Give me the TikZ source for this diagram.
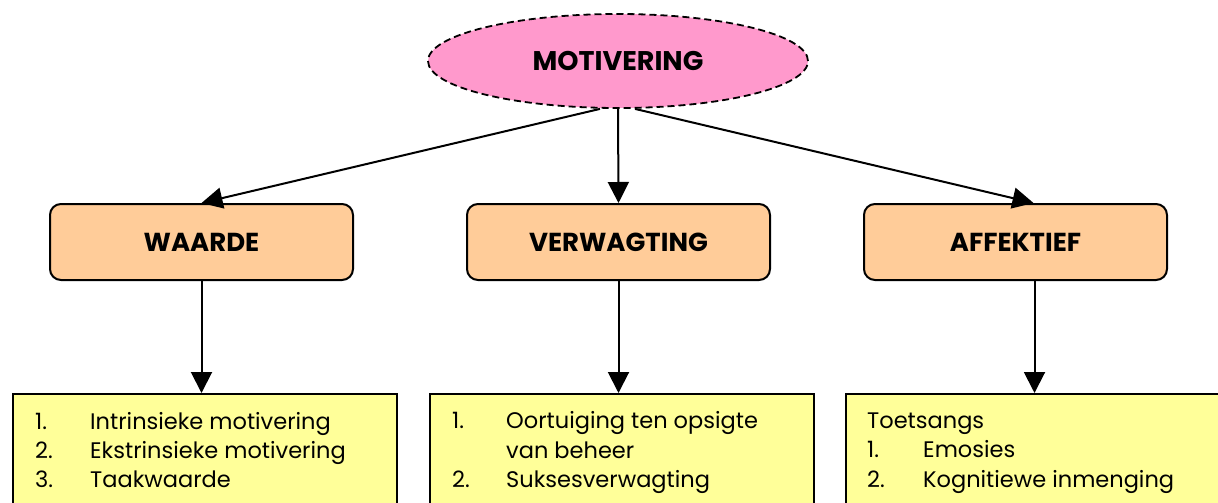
\documentclass[tikz,border=0pt]{standalone}
\usepackage{fontspec}
\setmainfont{Poppins}
\usetikzlibrary{shapes.geometric,arrows.meta}
\definecolor{pinkfill}{RGB}{255,153,204}
\definecolor{orangefill}{RGB}{255,204,153}
\definecolor{yellowfill}{RGB}{255,255,153}

\begin{document}
\begin{tikzpicture}[x=1pt,y=-1pt,
    top/.style={ellipse, draw, line width=1.8, dash pattern=on 7 off 4,
      fill=pinkfill, minimum width=380, minimum height=94,
      font=\bfseries\fontsize{27}{31}\selectfont},
    head/.style={draw, line width=2, rounded corners=11, fill=orangefill,
      minimum width=303, minimum height=76,
      font=\bfseries\fontsize{26}{30}\selectfont},
    list/.style={draw, line width=2, fill=yellowfill, anchor=north west,
      minimum width=384, minimum height=160},
    item/.style={anchor=base west, inner sep=0, font=\fontsize{22.5}{26}\selectfont},
    link/.style={line width=2, -{Triangle[length=21, width=21]}}]
    % Page frame
    \useasboundingbox (0,0) rectangle (1218,503);
    \clip (0,0) rectangle (1218,503);
    % Top ellipse
    \node[top] (mot) at (618,61) {MOTIVERING};
    % Second row
    \node[head] (waarde) at (201.5,242) {WAARDE};
    \node[head] (verw) at (618.5,242) {VERWAGTING};
    \node[head] (affek) at (1015.5,242) {AFFEKTIEF};
    % Lists (cut off at the bottom)
    \node[list] (wlist) at (12,393) {};
    \node[list] (vlist) at (429,393) {};
    \node[list] (alist) at (845,393) {};
    % Arrows from the top
    \draw[link] ([xshift=-18]mot.south) -- (waarde.north);
    \draw[link] (mot.south) -- (verw.north);
    \draw[link] ([xshift=17]mot.south) -- ([xshift=18]affek.north);
    % Arrows down to the lists
    \draw[link] (waarde.south) -- (waarde.south |- wlist.north);
    \draw[link] (verw.south) -- (verw.south |- vlist.north);
    \draw[link] ([xshift=19]affek.south) -- ([xshift=19]affek.south |- alist.north);
    % Items under WAARDE
    \foreach \n/\t [count=\i] in {1./Intrinsieke motivering,
        2./Ekstrinsieke motivering, 3./Taakwaarde} {
      \node[item] (wn\i) at (35,400+29*\i) {\n};
      \node[item] (wt\i) at (90,400+29*\i) {\t};
    }
    % Items under VERWAGTING
    \node[item] (vn1) at (452,428) {1.};
    \node[item] (vt1) at (506,428) {Oortuiging ten opsigte};
    \node[item] (vt1b) at (506,458) {van beheer};
    \node[item] (vn2) at (452,487) {2.};
    \node[item] (vt2) at (506,487) {Suksesverwagting};
    % Items under AFFEKTIEF
    \node[item] (at0) at (867,428) {Toetsangs};
    \node[item] (an1) at (867,457) {1.};
    \node[item] (at1) at (923,457) {Emosies};
    \node[item] (an2) at (867,487) {2.};
    \node[item] (at2) at (923,487) {Kognitiewe inmenging};
\end{tikzpicture}
\end{document}
